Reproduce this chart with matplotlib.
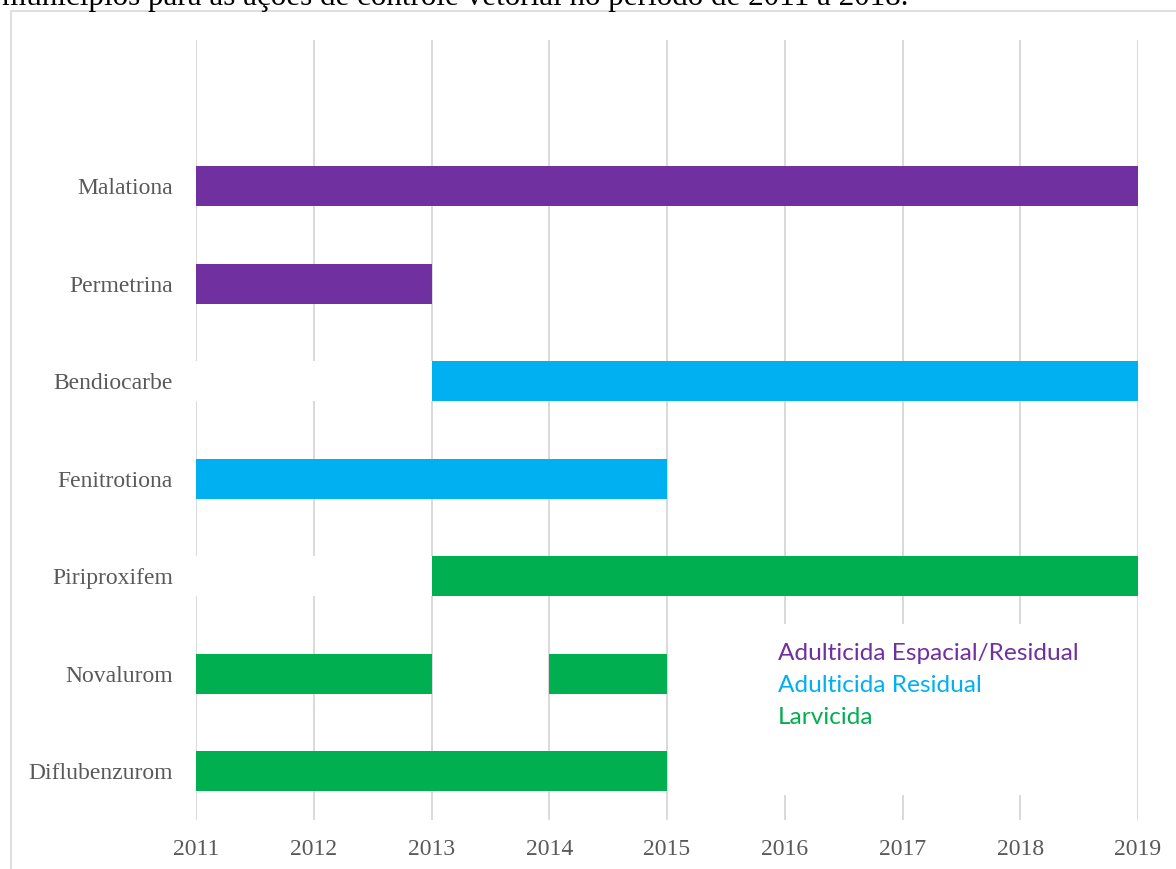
import matplotlib.pyplot as plt
from matplotlib.patches import Rectangle

# products (top to bottom) and their usage periods
products = ['Malationa', 'Permetrina', 'Bendiocarbe', 'Fenitrotiona',
            'Piriproxifem', 'Novalurom', 'Diflubenzurom']
groups = ['Adulticida Espacial/Residual', 'Adulticida Espacial/Residual',
          'Adulticida Residual', 'Adulticida Residual',
          'Larvicida', 'Larvicida', 'Larvicida']
periods = [
    [(2011, 2019)],
    [(2011, 2013)],
    [(2013, 2019)],
    [(2011, 2015)],
    [(2013, 2019)],
    [(2011, 2013), (2014, 2015)],
    [(2011, 2015)],
]
years = list(range(2011, 2020))

group_colors = {
    'Adulticida Espacial/Residual': '#7030A0',
    'Adulticida Residual': '#00B0F0',
    'Larvicida': '#00B050',
}

W, H = 1176, 869
fig = plt.figure(figsize=(W / 100, H / 100), dpi=100)
ax = fig.add_axes([196 / W, 1 - 820 / H, (1138 - 196) / W, (820 - 40) / H])

n = len(products)
ypos = [n - 1 - i for i in range(n)]
bar_h = 0.41

for y, per, g in zip(ypos, periods, groups):
    # white filler before first segment (hides the gridlines like the Excel gantt)
    first = per[0][0]
    if first > years[0]:
        ax.barh(y, first - years[0], left=years[0], height=bar_h,
                color='white', zorder=2)
    for s, e in per:
        ax.barh(y, e - s, left=s, height=bar_h, color=group_colors[g], zorder=3)

ax.set_xlim(years[0], years[-1])
ax.set_ylim(-0.5, n + 0.5)
ax.set_xticks(years)
ax.set_xticklabels([str(v) for v in years])
ax.set_yticks(ypos)
ax.set_yticklabels(products)
ax.grid(axis='x', color='#d9d9d9', linewidth=1.4, zorder=1)
ax.set_axisbelow(True)
for sp in ax.spines.values():
    sp.set_visible(False)
ax.tick_params(length=0, labelcolor='#595959', labelsize=17)
ax.tick_params(axis='x', pad=14)
ax.tick_params(axis='y', pad=16.5)
for lab in ax.get_xticklabels() + ax.get_yticklabels():
    lab.set_fontfamily('Liberation Serif')

# white text box holding the colour key
ax.add_patch(Rectangle((2015.6, -0.24), 2.95, 1.75, transform=ax.transData,
                       facecolor='white', edgecolor='none', zorder=2.5))
key_names = list(group_colors.keys())
for i, name in enumerate(key_names):
    fig.text(778 / W, 1 - (653 + 32 * i) / H, name, color=group_colors[name],
             fontsize=17.6, fontfamily='Lato', va='center', ha='left')

# chart frame
fig.patches.append(Rectangle((11 / W, -0.1), 1.2, 1 - 11 / H + 0.1,
                             transform=fig.transFigure, fill=False,
                             edgecolor='#d9d9d9', linewidth=1.2))

# clipped caption line from the page above
fig.text(2 / W, 1 - 5 / H,
         'municípios para as ações de controle vetorial no período de 2011 a 2018.',
         fontsize=22.4, fontfamily='Liberation Serif', color='black',
         va='baseline', ha='left')

fig.savefig('out.png', dpi=100)
